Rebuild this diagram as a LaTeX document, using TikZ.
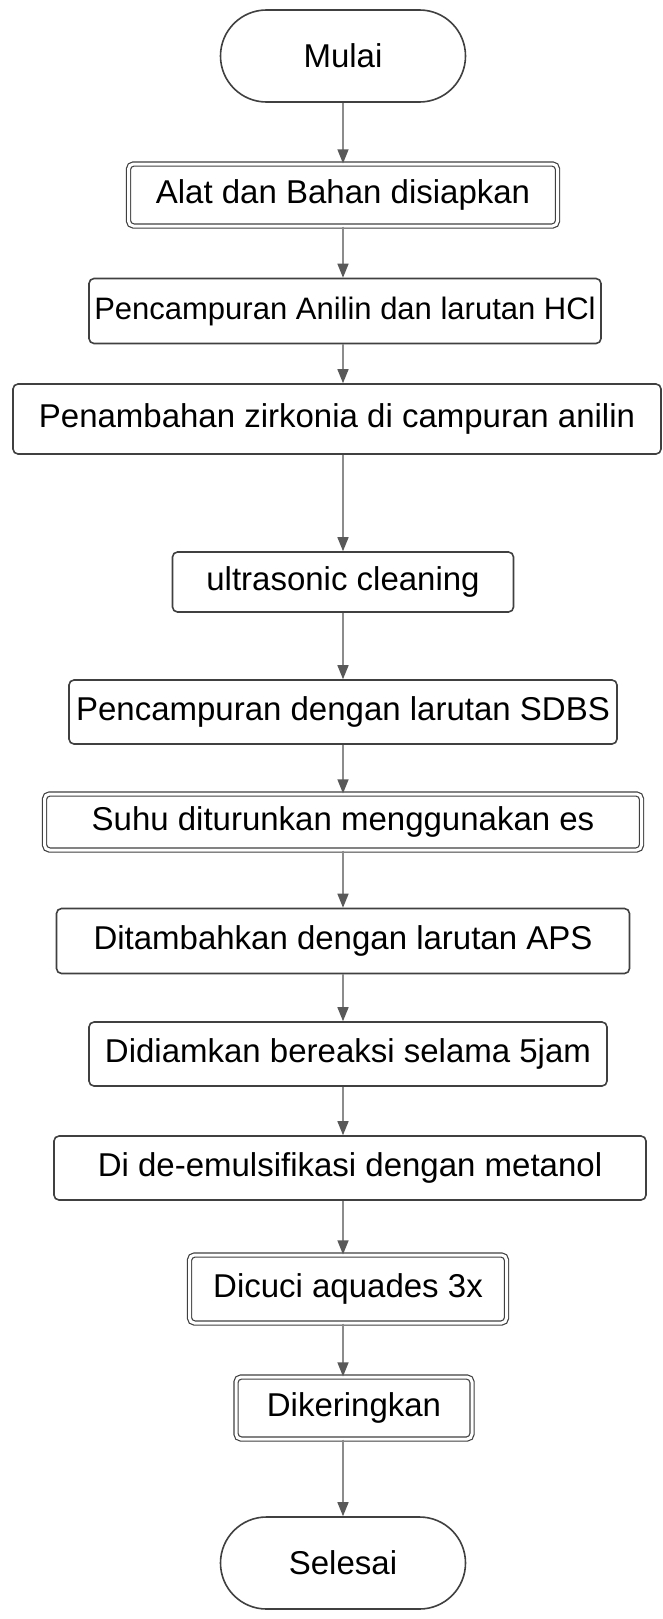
\documentclass[tikz,border=0pt]{standalone}
\usepackage{fontspec}
\setmainfont{Liberation Sans}
\usetikzlibrary{arrows.meta,shapes.misc}
\begin{document}
\begin{tikzpicture}[x=1pt,y=-1pt,
  every node/.style={font=\fontsize{33}{38}\selectfont},
  box/.style={draw=black!75, line width=1.6pt, rounded corners=5pt, fill=white, inner sep=0pt, align=center},
  dbox/.style={box, double=white, double distance=3pt, line width=1.2pt},
  term/.style={draw=black!75, line width=1.6pt, rounded rectangle, fill=white, inner sep=0pt},
  arr/.style={draw=black!45, line width=1.4pt, -{Triangle[length=14pt,width=11pt,fill=black!65,color=black!65]}}
]
\useasboundingbox[fill=white] (0,0) rectangle (662,1619);
\node[term, minimum width=245pt, minimum height=92pt] (n1) at (343,56) {Mulai};
\node[dbox, minimum width=429pt, minimum height=62pt] (n2) at (343,195) {Alat dan Bahan disiapkan};
\node[box, minimum width=512pt, minimum height=65pt, font=\fontsize{31}{36}\selectfont] (n3) at (345,311) {Pencampuran Anilin dan larutan HCl};
\node[box, minimum width=648pt, minimum height=70pt] (n4) at (337,419) {Penambahan zirkonia di campuran anilin};
\node[box, minimum width=341pt, minimum height=60pt] (n5) at (343,582) {ultrasonic cleaning};
\node[box, minimum width=548pt, minimum height=64pt] (n6) at (343,712) {Pencampuran dengan larutan SDBS};
\node[dbox, minimum width=597pt, minimum height=56pt] (n7) at (343,822) {Suhu diturunkan menggunakan es};
\node[box, minimum width=573pt, minimum height=65pt] (n8) at (343,941) {Ditambahkan dengan larutan APS};
\node[box, minimum width=518pt, minimum height=64pt] (n9) at (348,1054) {Didiamkan bereaksi selama 5jam};
\node[box, minimum width=592pt, minimum height=64pt] (n10) at (350,1168) {Di de-emulsifikasi dengan metanol};
\node[dbox, minimum width=317pt, minimum height=68pt] (n11) at (348,1289) {Dicuci aquades 3x};
\node[dbox, minimum width=236pt, minimum height=62pt] (n12) at (354,1408) {Dikeringkan};
\node[term, minimum width=245pt, minimum height=92pt] (n13) at (343,1563) {Selesai};
\foreach \a/\b in {n1/n2,n2/n3,n3/n4,n4/n5,n5/n6,n6/n7,n7/n8,n8/n9,n9/n10,n10/n11,n11/n12,n12/n13}
  \draw[arr] (\a.south -| n1.south) -- (\b.north -| n1.south);
\end{tikzpicture}
\end{document}
